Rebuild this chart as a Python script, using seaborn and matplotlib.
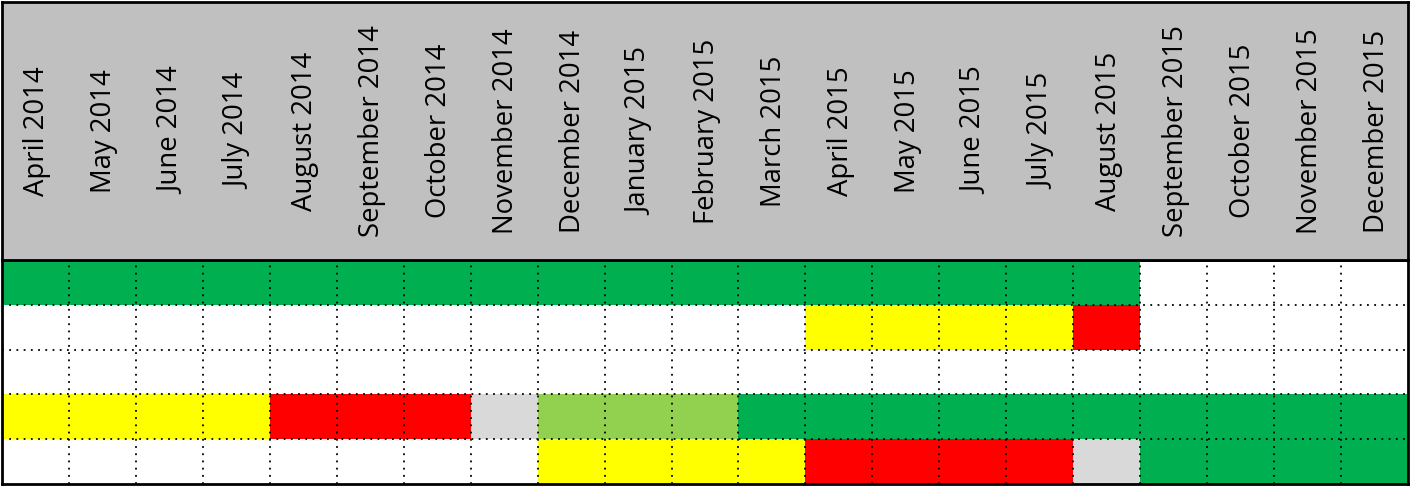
import numpy as np
import matplotlib.pyplot as plt
import seaborn as sns
from matplotlib.colors import ListedColormap

# ── Data ────────────────────────────────────────────────────────────
months = ["April 2014", "May 2014", "June 2014", "July 2014", "August 2014",
          "September 2014", "October 2014", "November 2014", "December 2014",
          "January 2015", "February 2015", "March 2015", "April 2015", "May 2015",
          "June 2015", "July 2015", "August 2015", "September 2015",
          "October 2015", "November 2015", "December 2015"]

# status codes: 0 blank, 1 green, 2 yellow, 3 red, 4 grey, 5 light green
row_1 = [1] * 17 + [0] * 4
row_2 = [0] * 12 + [2] * 4 + [3] + [0] * 4
row_3 = [0] * 21
row_4 = [2] * 4 + [3] * 3 + [4] + [5] * 3 + [1] * 10
row_5 = [0] * 8 + [2] * 4 + [3] * 4 + [4] + [1] * 4

status_colors = ["#FFFFFF", "#00B050", "#FFFF00", "#FF0000", "#D9D9D9", "#92D050"]
HEADER = "#C0C0C0"

grid = np.array([row_1, row_2, row_3, row_4, row_5])

# ── Figure ──────────────────────────────────────────────────────────
W, H = 1410, 486
fig = plt.figure(figsize=(W / 100, H / 100), dpi=100)
plt.rcParams["font.family"] = ["Open Sans", "DejaVu Sans"]

left, right = 2 / W, 1408 / W
ax = fig.add_axes([left, 2 / H, right - left, (226 - 2) / H])
hdr = fig.add_axes([left, 226 / H, right - left, (484 - 226) / H])

sns.heatmap(grid, cmap=ListedColormap(status_colors), vmin=-0.5, vmax=5.5,
            cbar=False, ax=ax, xticklabels=False, yticklabels=False)

ax.set_xticks(np.arange(1, len(months)), minor=True)
ax.set_yticks(np.arange(1, grid.shape[0]), minor=True)
ax.grid(which="minor", color="black", linestyle=(0, (1, 3)), linewidth=1.3)
ax.set_axisbelow(False)
ax.tick_params(which="both", length=0)
for s in ax.spines.values():
    s.set_visible(True)
    s.set_linewidth(2)
    s.set_color("black")

# header with month labels
hdr.set_facecolor(HEADER)
hdr.set_xlim(0, len(months))
hdr.set_ylim(0, 1)
hdr.set_xticks([])
hdr.set_yticks([])
for i, m in enumerate(months):
    hdr.text(i + 0.53, 0.5, m, rotation=90, ha="center", va="center",
             fontsize=19.8, color="black")
for s in hdr.spines.values():
    s.set_linewidth(2)
    s.set_color("black")

fig.savefig("out.png", dpi=100)
